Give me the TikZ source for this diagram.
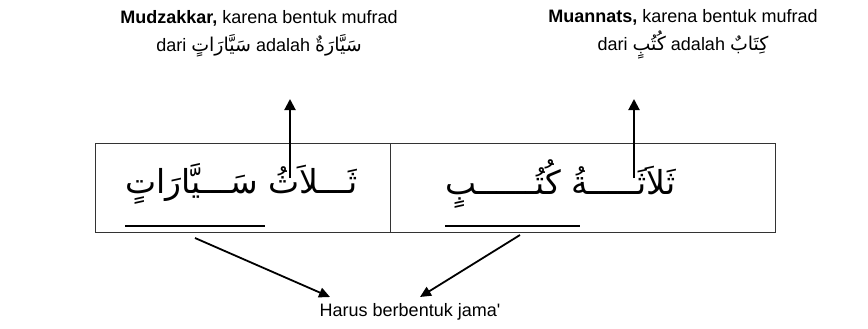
\documentclass[tikz,border=0pt]{standalone}
\usepackage{fontspec}
\setmainfont{Liberation Sans}
\newfontfamily\arabicfont[Script=Arabic]{DejaVu Sans}
\TeXXeTstate=1
\usetikzlibrary{arrows.meta}
\newcommand{\ar}[1]{{\arabicfont\fontsize{19}{28}\selectfont\beginR #1\endR}}
\begin{document}
\begin{tikzpicture}[x=1pt,y=-1pt,
  note/.style={font=\fontsize{18}{28}\selectfont, align=center, inner sep=0pt},
  arab/.style={font=\arabicfont\fontsize{33}{36}\selectfont, inner sep=0pt},
  uparrow/.style={line width=2pt, -{Triangle[length=11pt,width=11pt]}},
  downarrow/.style={line width=1.8pt, -{Triangle[length=11pt,width=10pt]}},
  cell/.style={draw=black!80, line width=0.9pt, inner sep=0pt, anchor=north west},
  uline/.style={line width=2pt}]
\useasboundingbox (0,0) rectangle (868,329);
% cells
\node[cell, minimum width=295pt, minimum height=89pt] (cellL) at (95,143) {};
\node[cell, minimum width=385pt, minimum height=89pt] (cellR) at (390,143) {};
% arabic phrases
\node[arab, anchor=west] (phrL) at (125,184) {\beginR ثَـــلاَثُ سَـــيَّارَاتٍ\endR};
\node[arab, anchor=west] (phrR) at (445,184) {\beginR ثَلاَثَـــــةُ كُتُــــــبٍ\endR};
% underlines
\coordinate (uLa) at (125,226);
\coordinate (uLb) at (265,226);
\coordinate (uRa) at (445,226);
\coordinate (uRb) at (580,226);
\draw[uline] (uLa) -- (uLb);
\draw[uline] (uRa) -- (uRb);
% top notes
\node[note] (noteL) at (259,34) {\textbf{Mudzakkar,} karena bentuk mufrad\\ dari \ar{سَيَّارَاتٍ} adalah \ar{سَيَّارَةٌ}};
\node[note] (noteR) at (683,34) {\textbf{Muannats,} karena bentuk mufrad\\ dari \ar{كُتُبٍ} adalah \ar{كِتَابٌ}};
% up arrows
\coordinate (sL) at (290,178);
\coordinate (tL) at (290,99);
\coordinate (sR) at (634,178);
\coordinate (tR) at (634,99);
\draw[uparrow] (sL) -- (tL);
\draw[uparrow] (sR) -- (tR);
% bottom label
\node[note] (jama) at (410,312) {Harus berbentuk jama\textquotesingle};
\coordinate (dL) at (195,238);
\coordinate (dR) at (520,235);
\coordinate (eL) at (330,297);
\coordinate (eR) at (420,297);
\draw[downarrow] (dL) -- (eL);
\draw[downarrow] (dR) -- (eR);
\end{tikzpicture}
\end{document}
